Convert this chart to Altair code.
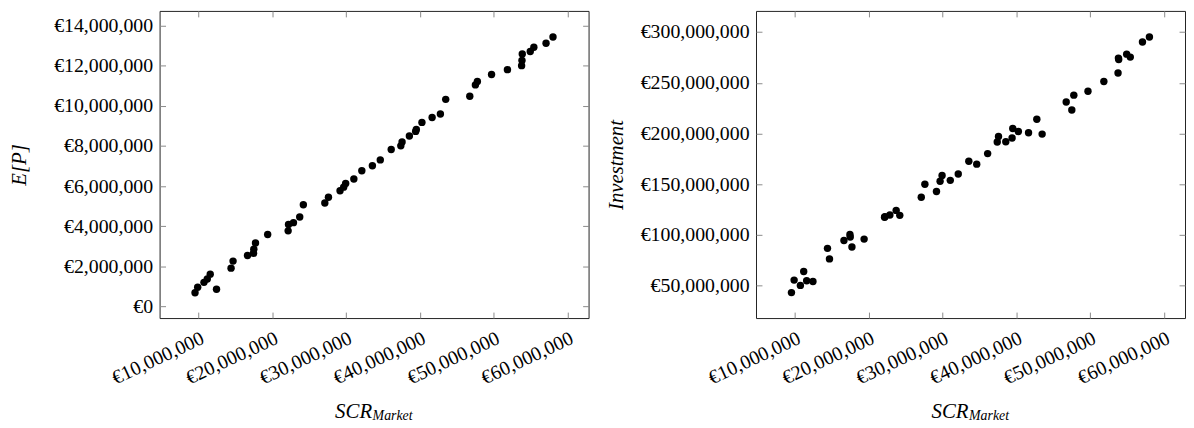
import altair as alt
import pandas as pd

# ---- data (in millions of euro) ----
scr_market = [9.55, 9.91, 10.76, 11.21, 11.61, 12.46, 14.43, 14.70, 16.66, 17.47,
              17.51, 17.74, 19.39, 22.16, 22.21, 22.88, 23.73, 24.22, 27.13, 27.62,
              29.19, 29.68, 29.95, 31.06, 32.14, 33.57, 34.64, 36.12, 37.42, 37.59,
              38.58, 39.43, 39.52, 40.28, 41.66, 42.78, 43.50, 46.76, 47.52, 47.79,
              49.71, 51.86, 53.78, 53.83, 53.87, 54.95, 55.44, 57.09, 58.03]

expected_p = [0.68, 0.96, 1.20, 1.37, 1.61, 0.86, 1.91, 2.26, 2.54, 2.65,
              2.85, 3.16, 3.59, 3.77, 4.09, 4.18, 4.46, 5.07, 5.16, 5.45,
              5.77, 5.95, 6.13, 6.36, 6.77, 7.02, 7.31, 7.83, 8.01, 8.20,
              8.50, 8.73, 8.83, 9.18, 9.42, 9.60, 10.33, 10.48, 11.05, 11.22,
              11.57, 11.81, 12.01, 12.27, 12.59, 12.72, 12.93, 13.13, 13.44]

investment = [43.2, 55.5, 50.3, 64.0, 54.9, 54.2, 86.8, 76.4, 94.6, 100.4,
              98.0, 88.2, 95.9, 117.4, 118.0, 119.7, 124.2, 119.3, 137.2, 149.9,
              142.8, 152.9, 158.7, 153.8, 160.0, 172.7, 169.8, 180.2, 191.6, 197.1,
              191.9, 195.5, 205.0, 202.0, 200.7, 214.1, 199.4, 231.0, 223.2, 237.8,
              241.7, 251.2, 259.6, 274.3, 273.0, 278.2, 275.3, 290.2, 295.1]

x_ticks = [10e6, 20e6, 30e6, 40e6, 50e6, 60e6]
ep_ticks = [0, 2e6, 4e6, 6e6, 8e6, 10e6, 12e6, 14e6]
inv_ticks = [50e6, 100e6, 150e6, 200e6, 250e6, 300e6]

x_domain = [4.75e6, 62.85e6]
ep_domain = [-0.58e6, 14.74e6]
inv_domain = [18.1e6, 320.8e6]

FONT = "Liberation Serif"
W, H = 433, 310
LABEL_EXPR = "'€' + format(datum.value, ',')"


def panel(yvals, ydomain, yticks, ytitle):
    df = pd.DataFrame({"x": [v * 1e6 for v in scr_market],
                       "y": [v * 1e6 for v in yvals]})
    xs = alt.Scale(domain=x_domain, nice=False, zero=False)
    ys = alt.Scale(domain=ydomain, nice=False, zero=False)

    main = alt.Chart(df).mark_circle(size=56, color="black", opacity=1).encode(
        x=alt.X("x:Q", scale=xs, axis=alt.Axis(
            orient="bottom", values=x_ticks, labelExpr=LABEL_EXPR,
            ticks=False, tickSize=0, domain=False, grid=False,
            labelAngle=335, labelAlign="right", labelBaseline="top",
            labelPadding=10, labelFont=FONT, labelFontSize=20, labelColor="black",
            labelOverlap=False, labelFlush=False, labelBound=False,
            title="SCR", titleFont=FONT, titleFontStyle="italic",
            titleFontWeight="normal", titleFontSize=21, titleColor="black",
            titleAlign="right", titleBaseline="alphabetic",
            titleX=214, titleY=100)),
        y=alt.Y("y:Q", scale=ys, axis=alt.Axis(
            orient="left", values=yticks, labelExpr=LABEL_EXPR,
            ticks=False, tickSize=0, domain=False, grid=False,
            labelPadding=7, labelFont=FONT, labelFontSize=20, labelColor="black",
            labelOverlap=False,
            title=ytitle, titleFont=FONT, titleFontStyle="italic",
            titleFontWeight="normal", titleFontSize=21, titleColor="black",
            titlePadding=14, minExtent=117, maxExtent=117)),
    )

    tick_style = dict(labels=False, domain=False, grid=False, ticks=True,
                      tickSize=6, tickColor="#8a8a8a", tickWidth=1, offset=-6,
                      title=None)
    ticks_a = alt.Chart(df).mark_point(opacity=0).encode(
        x=alt.X("x:Q", scale=xs, axis=alt.Axis(orient="bottom", values=x_ticks, **tick_style)),
        y=alt.Y("y:Q", scale=ys, axis=alt.Axis(orient="left", values=yticks, **tick_style)),
    )
    ticks_b = alt.Chart(df).mark_point(opacity=0).encode(
        x=alt.X("x:Q", scale=xs, axis=alt.Axis(orient="top", values=x_ticks, **tick_style)),
        y=alt.Y("y:Q", scale=ys, axis=alt.Axis(orient="right", values=yticks, **tick_style)),
    )
    sub = alt.Chart(pd.DataFrame({"t": ["Market"]})).mark_text(
        align="left", baseline="alphabetic", font=FONT, fontStyle="italic",
        fontSize=14, color="black"
    ).encode(text="t:N", x=alt.value(215), y=alt.value(H + 103))

    return alt.layer(main, ticks_a, ticks_b, sub).resolve_axis(
        x="independent", y="independent"
    ).properties(width=W, height=H)


left = panel(expected_p, ep_domain, ep_ticks, "E[P]")
right = panel(investment, inv_domain, inv_ticks, "Investment")

chart = alt.hconcat(left, right, spacing=15).properties(
    padding={"left": 0, "top": 0, "right": 0, "bottom": 0}
).configure_view(stroke="#222222", strokeWidth=1)

chart.save("out.html", embed_options={"renderer": "svg", "actions": False})
